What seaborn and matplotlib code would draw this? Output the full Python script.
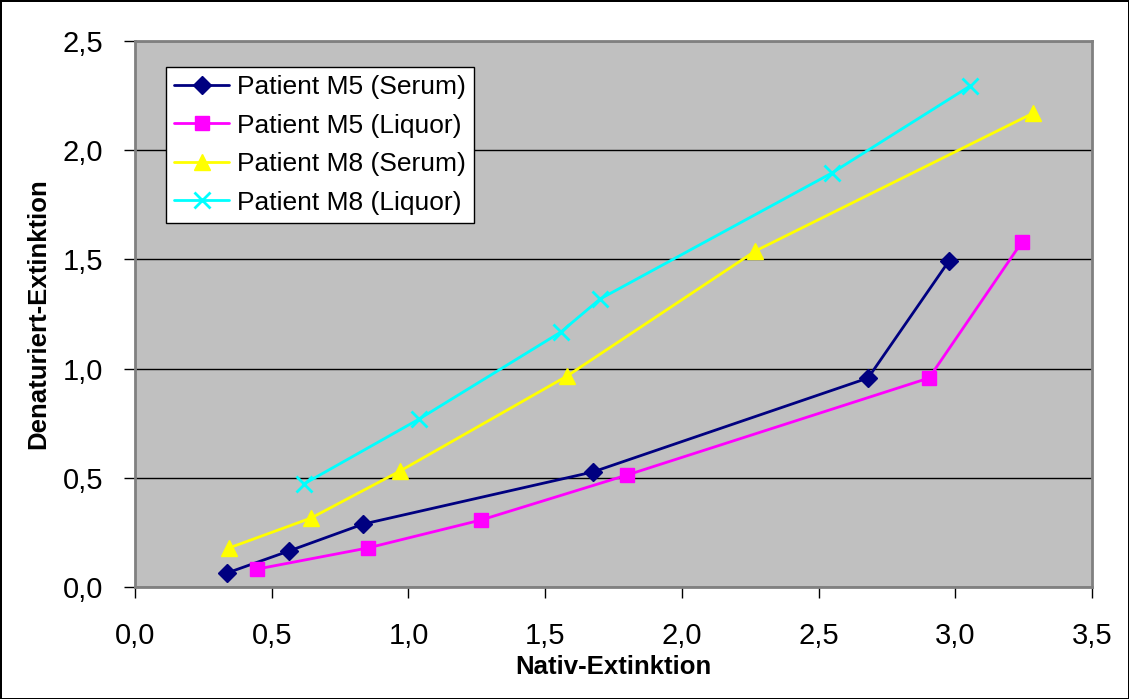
import matplotlib
matplotlib.use("Agg")
import matplotlib.pyplot as plt
import matplotlib.ticker as mticker
import seaborn as sns
import pandas as pd

# Measured extinctions: native (x) vs. denatured (y)
m5_serum_x = [0.336, 0.563, 0.834, 1.675, 2.681, 2.977]
m5_serum_y = [0.064, 0.165, 0.288, 0.527, 0.957, 1.493]
m5_liquor_x = [0.446, 0.852, 1.266, 1.800, 2.904, 3.244]
m5_liquor_y = [0.082, 0.179, 0.307, 0.513, 0.957, 1.580]
m8_serum_x = [0.344, 0.644, 0.969, 1.580, 2.268, 3.285]
m8_serum_y = [0.179, 0.316, 0.531, 0.966, 1.538, 2.170]
m8_liquor_x = [0.618, 1.039, 1.558, 1.701, 2.549, 3.054]
m8_liquor_y = [0.472, 0.769, 1.168, 1.319, 1.896, 2.294]

series_names = ["Patient M5 (Serum)", "Patient M5 (Liquor)",
                "Patient M8 (Serum)", "Patient M8 (Liquor)"]
x_ticks = [0.0, 0.5, 1.0, 1.5, 2.0, 2.5, 3.0, 3.5]
y_ticks = [0.0, 0.5, 1.0, 1.5, 2.0, 2.5]

series = [
    (series_names[0], m5_serum_x, m5_serum_y, "#000080", "D", 9),
    (series_names[1], m5_liquor_x, m5_liquor_y, "#FF00FF", "s", 10),
    (series_names[2], m8_serum_x, m8_serum_y, "#FFFF00", "^", 11),
    (series_names[3], m8_liquor_x, m8_liquor_y, "#00FFFF", "x", 11),
]

sns.set_style("white")
plt.rcParams["font.family"] = ["Liberation Sans", "DejaVu Sans"]
plt.rcParams["text.color"] = "black"
plt.rcParams["axes.labelcolor"] = "black"
plt.rcParams["xtick.color"] = "black"
plt.rcParams["ytick.color"] = "black"

fig = plt.figure(figsize=(11.29, 6.99), dpi=100)
fig.patch.set_edgecolor("black")
fig.patch.set_linewidth(2)
ax = fig.add_axes([0.1196, 0.1602, 0.8476, 0.7811])
ax.set_facecolor("#C0C0C0")

for name, xs, ys, color, marker, ms in series:
    df = pd.DataFrame({"x": xs, "y": ys})
    sns.lineplot(data=df, x="x", y="y", ax=ax, sort=False, color=color,
                 linewidth=2, marker=marker, markersize=ms,
                 markeredgecolor=color, markeredgewidth=2 if marker == "x" else 1,
                 label=name, zorder=3)

ax.set_xlim(0, 3.5)
ax.set_ylim(0, 2.5)
ax.set_xticks(x_ticks)
ax.set_yticks(y_ticks)
fmt = mticker.FuncFormatter(lambda v, p: f"{v:.1f}".replace(".", ","))
ax.xaxis.set_major_formatter(fmt)
ax.yaxis.set_major_formatter(fmt)
ax.tick_params(axis="both", direction="out", length=8, width=1, color="black",
               labelcolor="black", labelsize=21, bottom=True, left=True)
ax.tick_params(axis="x", pad=17)
ax.tick_params(axis="y", pad=15)
ax.grid(axis="y", color="black", linewidth=1)
ax.set_axisbelow(True)
for side in ["left", "bottom", "top", "right"]:
    ax.spines[side].set_color("#808080")
    ax.spines[side].set_linewidth(2)

ax.set_xlabel("Nativ-Extinktion", fontsize=18.5, fontweight="bold", labelpad=4)
ax.set_ylabel("Denaturiert-Extinktion", fontsize=18.5, fontweight="bold", labelpad=9)

leg = ax.legend(loc="upper left", bbox_to_anchor=(0.0325, 0.952), fontsize=19,
                frameon=True, fancybox=False, edgecolor="black", framealpha=1,
                facecolor="white", handlelength=2.1, borderpad=0.3,
                labelspacing=0.55, handletextpad=0.3, borderaxespad=0)
leg.get_frame().set_linewidth(1)

fig.savefig("out.png", dpi=100, edgecolor=fig.get_edgecolor())
